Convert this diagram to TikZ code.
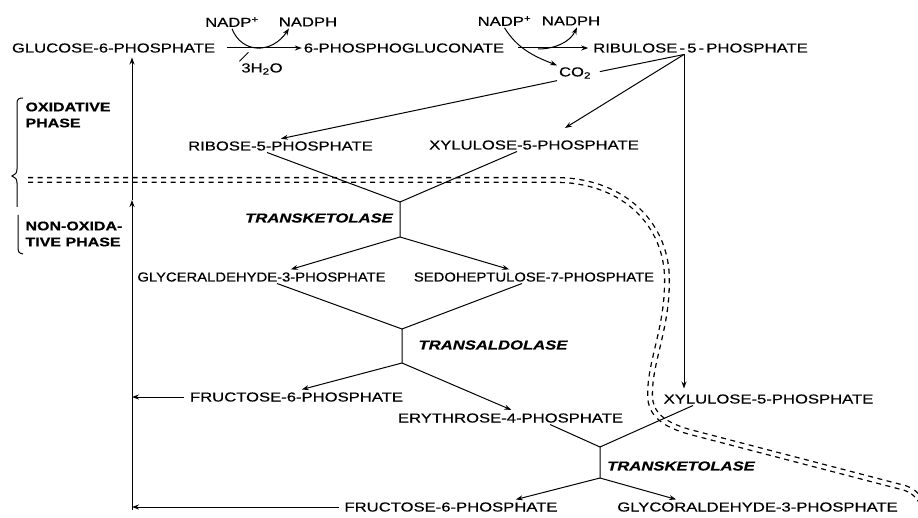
\documentclass[tikz,border=0pt]{standalone}
\usepackage{fontspec}
\setmainfont[FakeStretch=1.28, FakeBold=0.5]{Liberation Sans}
\newfontfamily\narrowfont[FakeStretch=1.14, FakeBold=0.5]{Liberation Sans}
\usetikzlibrary{arrows.meta}
\tikzset{%
  metabolite/.style={
    inner sep=1.5pt,
    text height=9pt,
    text depth=0pt,
    font=\fontsize{13}{15}\selectfont
  },
  metabolite narrow/.style={
    metabolite,
    font=\fontsize{13}{15}\narrowfont
  },
  cofactor/.style={
    inner sep=1.5pt,
    font=\fontsize{13}{15}\selectfont
  },
  enzyme/.style={
    inner sep=1.5pt,
    font=\fontsize{13}{15}\selectfont\bfseries\itshape
  },
  phase/.style={
    align=left,
    anchor=west,
    inner sep=0pt,
    font=\fontsize{12.5}{16}\selectfont\bfseries
  },
  boundary/.style={
    line width=6pt,
    dash pattern=on 5pt off 4.5pt,
    postaction={draw=white, solid, line width=3.4pt}
  },
}

\begin{document}
\begin{tikzpicture}[x=1pt, y=-1pt, >={Stealth[length=7pt,width=5pt]}, line width=1pt]
\useasboundingbox (0,0) rectangle (918,518);

% line between the oxidative and the non-oxidative phase
\draw [boundary] (28,180) -- (560,180)
  .. controls (625,182) and (667,225) .. (667,280)
  .. controls (667,330) and (650,360) .. (650,395)
  .. controls (650,415) and (665,425) .. (690,432)
  -- (905,488) .. controls (912,490) and (918,495) .. (924,506);

% oxidative phase
\node [metabolite] (glucose) at (113.5,48) {GLUCOSE-6-PHOSPHATE};
\node [metabolite] (pgluconate) at (404,48) {6-PHOSPHOGLUCONATE};
\node [metabolite] (ribulose) at (700.5,48) {RIBULOSE\,-\,5\,-\,PHOSPHATE};
\node [cofactor] (nadpA) at (232,22) {NADP\textsuperscript{+}};
\node [cofactor] (nadphA) at (308,22) {NADPH};
\node [cofactor] (waterA) at (262,69) {3H\textsubscript{2}O};
\node [cofactor] (nadpB) at (504.5,21) {NADP\textsuperscript{+}};
\node [cofactor] (nadphB) at (571,21) {NADPH};
\node [cofactor] (co2) at (575,73) {CO\textsubscript{2}};

% non-oxidative phase
\node [metabolite] (ribose) at (280.5,146) {RIBOSE-5-PHOSPHATE};
\node [metabolite] (xyluloseA) at (534,145) {XYLULOSE-5-PHOSPHATE};
\node [enzyme] (tkA) at (319,218) {TRANSKETOLASE};
\node [metabolite narrow] (gapA) at (261.5,277) {GLYCERALDEHYDE-3-PHOSPHATE};
\node [metabolite narrow] (sedo) at (534,277) {SEDOHEPTULOSE-7-PHOSPHATE};
\node [enzyme] (taldo) at (493,345) {TRANSALDOLASE};
\node [metabolite] (fructoseA) at (296.5,397) {FRUCTOSE-6-PHOSPHATE};
\node [metabolite] (erythrose) at (510.5,418) {ERYTHROSE-4-PHOSPHATE};
\node [metabolite] (xyluloseB) at (768.5,399) {XYLULOSE-5-PHOSPHATE};
\node [enzyme] (tkB) at (681,466) {TRANSKETOLASE};
\node [metabolite] (fructoseB) at (451,507) {FRUCTOSE-6-PHOSPHATE};
\node [metabolite] (gapB) at (757.5,507) {GLYCORALDEHYDE-3-PHOSPHATE};

% phase labels and brackets
\node [phase] (oxidative) at (25,115) {OXIDATIVE\\PHASE};
\node [phase] (nonoxidative) at (25,234) {NON-OXIDA-\\TIVE PHASE};
\draw [line width=1pt] (23,98) .. controls (19,98) and (17,99) .. (17,103)
  -- (17,169) .. controls (17,173) and (15,175) .. (12,176)
  .. controls (15,177) and (17,179) .. (17,183) -- (17,207);
\draw [line width=1pt] (18,215) -- (18,249)
  .. controls (18,252) and (19,253) .. (23,254);

% glucose-6-phosphate to ribulose-5-phosphate
\draw [->, shorten <=10pt] (glucose.east) -- (pgluconate.west);
\draw [->] (nadpA.south) .. controls (242,54) and (272,54) .. ([xshift=-19]nadphA.south);
\draw (waterA.north west) -- ++(9,-9);

\coordinate (split) at (538,49);
\draw [->, shorten <=12pt, shorten >=3pt] (pgluconate.east) -- (ribulose.west);
\draw [->] (nadpB.south) .. controls (517,48) and (533,56) .. (co2.north west);
\draw [->] (split) .. controls (555,49) and (570,42) .. ([xshift=6]nadphB.south);

% ribulose-5-phosphate branches
\coordinate (r5p) at ([xshift=-16.5]ribulose.south);
\draw [shorten >=7pt] (r5p) -- (co2.east);
\draw [->, shorten >=4pt] (co2.south west) -- ([xshift=-3.5]ribose.north);
\draw [->, shorten >=20pt] (r5p) -- ([xshift=14]xyluloseA.north);
\draw [->, shorten >=4pt] (r5p) -- (r5p |- xyluloseB.north);

% transketolase
\coordinate (tkA-top) at (400,202);
\coordinate (tkA-bot) at (400,237);
\draw ([xshift=-13.5]ribose.south) -- (tkA-top) -- (tkA-bot);
\draw ([xshift=-17]xyluloseA.south) -- (tkA-top);
\draw [->, shorten >=4pt] (tkA-bot) -- ([xshift=25.5]gapA.north);
\draw [->, shorten >=4pt] (tkA-bot) -- ([xshift=-21]sedo.north);

% transaldolase
\coordinate (taldo-top) at (402,329);
\coordinate (taldo-bot) at (402,363);
\draw ([xshift=15.5]gapA.south) -- (taldo-top) -- (taldo-bot);
\draw ([xshift=-12]sedo.south) -- (taldo-top);
\draw [->, shorten >=4pt] (taldo-bot) -- ([xshift=1.5]fructoseA.north);
\draw [->, shorten >=4pt] (taldo-bot) -- ([xshift=4.5]erythrose.north);

% transketolase, second pass
\coordinate (tkB-top) at (600,447);
\coordinate (tkB-bot) at (600,478);
\draw ([xshift=39.5]erythrose.south) -- (tkB-top) -- (tkB-bot);
\draw ([xshift=-75.5]xyluloseB.south) -- (tkB-top);
\draw [->, shorten >=4pt] (tkB-bot) -- ([xshift=61]fructoseB.north);
\draw [->, shorten >=4pt] (tkB-bot) -- ([xshift=-77.5]gapB.north);

% fructose-6-phosphate back to glucose-6-phosphate
\coordinate (spine-mid) at (132,200);
\coordinate (spine-foot) at (132,510);
\draw [->] (spine-foot) -- (spine-mid);
\draw [->, shorten >=3pt] (spine-mid) -- (spine-mid |- glucose.south);
\draw [->] ([xshift=-4]fructoseA.west) -- (fructoseA.west -| spine-foot);
\draw [->] ([xshift=-4]fructoseB.west) -- (fructoseB.west -| spine-foot);
\end{tikzpicture}
\end{document}
